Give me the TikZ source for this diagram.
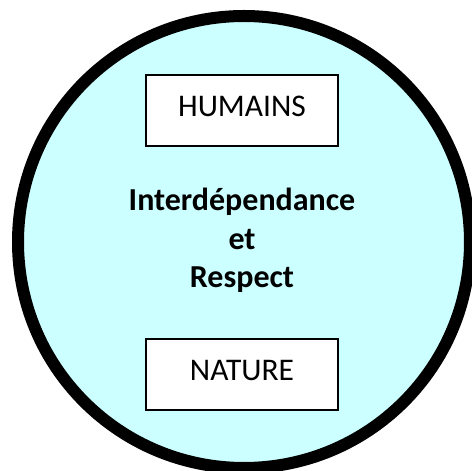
\documentclass[tikz,border=0pt]{standalone}
\usepackage{fontspec}
\setmainfont{Carlito}
\definecolor{paleCyan}{RGB}{204,255,255}
\begin{document}
\begin{tikzpicture}[x=1pt,y=1pt,
  labelbox/.style={draw=black, line width=2pt, fill=white, minimum width=192pt, minimum height=71pt,
    inner sep=0pt, font=\fontsize{31.5}{38}\selectfont, text height=22pt, text depth=10.8pt},
  centretext/.style={align=center, font=\bfseries\fontsize{32}{38.5}\selectfont}]
\useasboundingbox (0,0) rectangle (472,471);
\draw[line width=12pt, fill=paleCyan] (244,229) circle[radius=226];
\node[labelbox] (humains) at (242,360.5) {HUMAINS};
\node[labelbox] (nature) at (242,96.5) {NATURE};
\node[centretext, anchor=base] (mid) at (242,183) {Interdépendance\\et\\Respect};
\end{tikzpicture}
\end{document}
